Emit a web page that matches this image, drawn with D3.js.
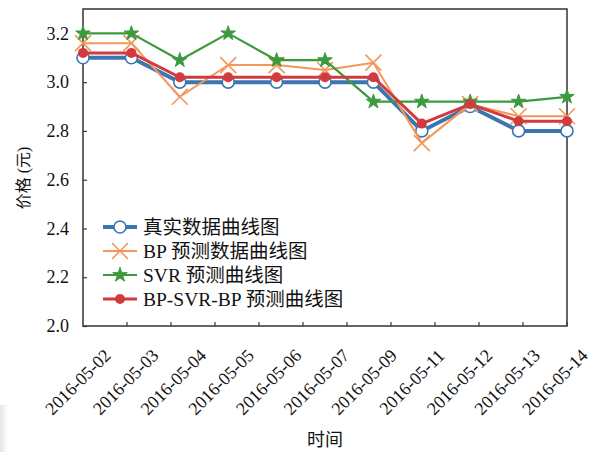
<!DOCTYPE html>
<html>
<head>
<meta charset="utf-8">
<script src="https://cdn.jsdelivr.net/npm/d3@7"></script>
<style>
  html, body { margin: 0; padding: 0; background: #fff; }
  svg { display: block; }
</style>
</head>
<body>
<svg id="chart" width="597" height="452"></svg>
<script>
// Trading days and closing prices (元)
const dates = ["2016-05-02","2016-05-03","2016-05-04","2016-05-05","2016-05-06","2016-05-07",
               "2016-05-09","2016-05-11","2016-05-12","2016-05-13","2016-05-14"];
const actual = [3.10, 3.10, 3.00, 3.00, 3.00, 3.00, 3.00, 2.80, 2.90, 2.80, 2.80];
const bpPred = [3.16, 3.16, 2.94, 3.07, 3.07, 3.05, 3.08, 2.75, 2.91, 2.86, 2.86];
const svrPred = [3.20, 3.20, 3.09, 3.20, 3.09, 3.09, 2.92, 2.92, 2.92, 2.92, 2.94];
const hybridPred = [3.12, 3.12, 3.02, 3.02, 3.02, 3.02, 3.02, 2.83, 2.91, 2.84, 2.84];
const yTicks = [2.0, 2.2, 2.4, 2.6, 2.8, 3.0, 3.2];
const seriesNames = ["真实数据曲线图", "BP 预测数据曲线图", "SVR 预测曲线图", "BP-SVR-BP 预测曲线图"];

const FONT = "'Liberation Serif', 'Times New Roman', 'Noto Sans CJK SC', serif";

const series = [
  { name: seriesNames[0], values: actual, color: "#3b76b0", width: 4, marker: "circleOpen" },
  { name: seriesNames[1], values: bpPred, color: "#f5965a", width: 2, marker: "x" },
  { name: seriesNames[2], values: svrPred, color: "#3c9a3c", width: 2.2, marker: "star" },
  { name: seriesNames[3], values: hybridPred, color: "#d13b3e", width: 3, marker: "dot" }
];

const svg = d3.select("#chart");
const L = 83, R = 567, T = 9, B = 326;

// faint shading at the lower-left corner
const defs = svg.append("defs");
const g0 = defs.append("linearGradient").attr("id", "corner").attr("x1", 0).attr("x2", 1);
g0.append("stop").attr("offset", 0).attr("stop-color", "#e4e4e4");
g0.append("stop").attr("offset", 1).attr("stop-color", "#fff");
svg.append("rect").attr("x", 0).attr("y", 405).attr("width", 8).attr("height", 47).attr("fill", "url(#corner)");

const x = d3.scalePoint().domain(d3.range(dates.length)).range([L, R]);
const y = d3.scaleLinear().domain([2.0, 3.3]).range([B, T]);
// category tick marks along the bottom edge
const xTick = d3.scaleLinear().domain([0, dates.length]).range([L, R]);
// rotated date labels
const xLab = d3.scalePoint().domain(d3.range(dates.length)).range([78, 555]);

// y axis (ticks pointing inward)
const yAxis = d3.axisLeft(y).tickValues(yTicks).tickFormat(d3.format(".1f")).tickSizeInner(-4).tickSizeOuter(0).tickPadding(14);
const ya = svg.append("g").attr("transform", `translate(${L},0)`).call(yAxis);
ya.select(".domain").remove();
ya.selectAll(".tick line").attr("stroke", "#333").attr("stroke-width", 1.2);
ya.selectAll(".tick text").attr("fill", "#111")
  .style("font-family", FONT).style("font-size", "18px");

// x tick marks
svg.append("g").selectAll("line").data(d3.range(1, dates.length + 1)).join("line")
  .attr("x1", d => xTick(d)).attr("x2", d => xTick(d))
  .attr("y1", B).attr("y2", B - 4)
  .attr("stroke", "#333").attr("stroke-width", 1.2);

// x labels rotated 45°
svg.append("g").selectAll("text").data(dates).join("text")
  .attr("transform", (d, i) => `translate(${xLab(i)},382) rotate(-45)`)
  .attr("text-anchor", "middle").attr("dominant-baseline", "central")
  .attr("fill", "#111")
  .style("font-family", FONT).style("font-size", "18px").text(d => d);

// plot frame
svg.append("rect").attr("x", L).attr("y", T).attr("width", R - L).attr("height", B - T)
  .attr("fill", "none").attr("stroke", "#333").attr("stroke-width", 1.5);

// axis titles
svg.append("text").attr("transform", `translate(23,178) rotate(-90)`)
  .attr("text-anchor", "middle").attr("dominant-baseline", "central")
  .attr("fill", "#111")
  .style("font-family", FONT).style("font-size", "16px").text("价格 (元)");
svg.append("text").attr("x", 325).attr("y", 440)
  .attr("text-anchor", "middle").attr("dominant-baseline", "central")
  .attr("fill", "#111")
  .style("font-family", FONT).style("font-size", "18px").text("时间");

const star = d3.symbol().type(d3.symbolStar).size(66);

function drawMarker(g, s, cx, cy) {
  if (s.marker === "circleOpen") {
    g.append("circle").attr("cx", cx).attr("cy", cy).attr("r", 6)
      .attr("fill", "#fff").attr("stroke", s.color).attr("stroke-width", 1.6);
  } else if (s.marker === "x") {
    const h = 8;
    g.append("path")
      .attr("d", `M${cx - h},${cy - h}L${cx + h},${cy + h}M${cx - h},${cy + h}L${cx + h},${cy - h}`)
      .attr("stroke", s.color).attr("stroke-width", 1.6).attr("fill", "none");
  } else if (s.marker === "star") {
    g.append("path").attr("d", star()).attr("transform", `translate(${cx},${cy})`)
      .attr("fill", s.color).attr("stroke", s.color).attr("stroke-width", 1);
  } else {
    g.append("circle").attr("cx", cx).attr("cy", cy).attr("r", 5).attr("fill", s.color);
  }
}

const plot = svg.append("g");
const line = d3.line().x((d, i) => x(i)).y(d => y(d));
series.forEach(s => {
  const g = plot.append("g");
  g.append("path").attr("d", line(s.values)).attr("fill", "none")
    .attr("stroke", s.color).attr("stroke-width", s.width).attr("stroke-linejoin", "round");
  s.values.forEach((v, i) => drawMarker(g, s, x(i), y(v)));
});

// legend
const lg = svg.append("g");
series.forEach((s, i) => {
  const yy = 227 + i * 24;
  const g = lg.append("g");
  g.append("line").attr("x1", 103).attr("x2", 137).attr("y1", yy).attr("y2", yy)
    .attr("stroke", s.color).attr("stroke-width", s.width);
  drawMarker(g, s, 120, yy);
  lg.append("text").attr("x", 143).attr("y", yy).attr("dominant-baseline", "central")
    .attr("fill", "#111")
    .style("font-family", FONT).style("font-size", "19.5px").text(s.name);
});
</script>
</body>
</html>
